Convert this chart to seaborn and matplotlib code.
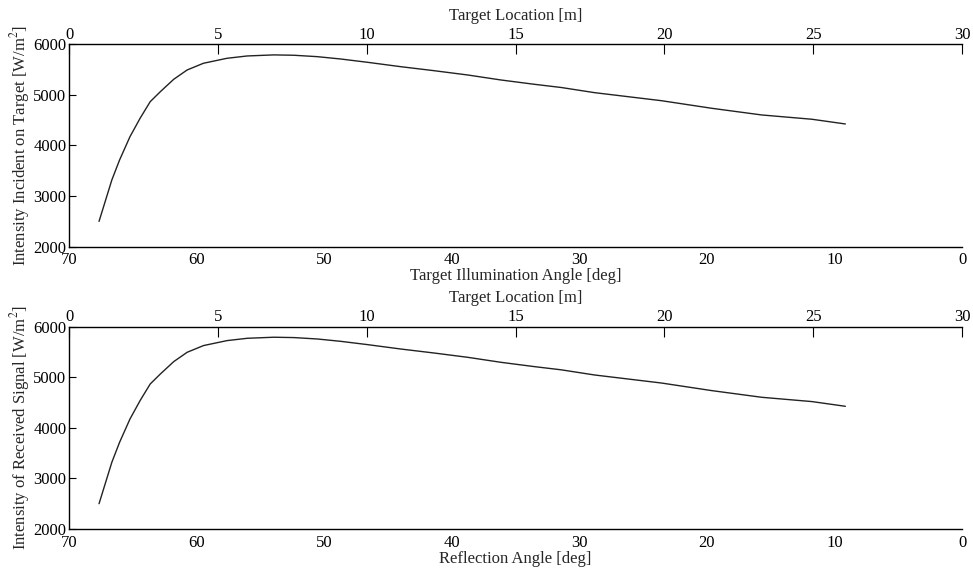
import matplotlib
matplotlib.use("Agg")
import matplotlib.pyplot as plt
import seaborn as sns

# Data (Target Location [m] vs intensity [W/m^2])
location_m = [1.0, 1.43, 1.69, 2.04, 2.38, 2.72, 3.06, 3.51, 3.96, 4.51, 5.30,
              5.98, 6.87, 7.55, 8.34, 9.12, 10.02, 11.14, 12.26, 13.39, 14.51,
              15.63, 16.53, 17.65, 19.9, 21.59, 23.27, 24.96, 26.08]
intensity_incident = [2500, 3318, 3713, 4174, 4538, 4866, 5063, 5308, 5492, 5625,
                      5723, 5769, 5790, 5783, 5755, 5709, 5644, 5557, 5478, 5393,
                      5294, 5209, 5146, 5044, 4885, 4735, 4603, 4518, 4425]
intensity_received = [2500, 3318, 3713, 4174, 4538, 4866, 5063, 5308, 5492, 5625,
                      5723, 5769, 5790, 5783, 5755, 5709, 5644, 5557, 5478, 5393,
                      5294, 5209, 5146, 5044, 4885, 4735, 4603, 4518, 4425]

angle_ticks = [70, 60, 50, 40, 30, 20, 10, 0]
location_ticks = [0, 5, 10, 15, 20, 25, 30]
intensity_ticks = [2000, 3000, 4000, 5000, 6000]

panels = [
    (intensity_incident, "Intensity Incident on Target [W/m$^2$]", "Target Illumination Angle [deg]"),
    (intensity_received, "Intensity of Received Signal [W/m$^2$]", "Reflection Angle [deg]"),
]

sns.set_style("white")
plt.rcParams["font.family"] = ["Liberation Serif", "DejaVu Serif"]
plt.rcParams["mathtext.fontset"] = "stix"
plt.rcParams["axes.linewidth"] = 1.0

fig = plt.figure(figsize=(9.73, 5.75), dpi=100)
bottoms = [0.571, 0.080]
fs = 12

for (vals, ylab, xlab), b in zip(panels, bottoms):
    ax = fig.add_axes([0.0712, b, 0.9175, 0.352])
    ax.set_xlim(70, 0)
    ax.set_ylim(2000, 6000)
    ax.set_xticks(angle_ticks)
    ax.set_yticks(intensity_ticks)
    ax.set_xticklabels([str(t) for t in angle_ticks], fontsize=fs)
    ax.set_yticklabels([str(t) for t in intensity_ticks], fontsize=fs)
    # only a small inward tick at the right end of the bottom axis
    ax.set_xticks([0], minor=True)
    for s in ["right", "top"]:
        ax.spines[s].set_visible(False)
    for s in ["left", "bottom"]:
        ax.spines[s].set_color("black")
    ax.tick_params(axis="y", direction="in", length=5, width=0.8, pad=2, left=True, right=False, colors="black")
    ax.tick_params(axis="x", which="major", direction="in", length=0, pad=4, bottom=True, top=False, colors="black")
    ax.tick_params(axis="x", which="minor", direction="in", length=7, width=0.8, bottom=True, top=False, colors="black")
    ax.set_xlabel(xlab, fontsize=fs, labelpad=0)
    ax.set_ylabel(ylab, fontsize=fs, labelpad=1)

    axt = ax.twiny()
    sns.lineplot(x=location_m, y=vals, ax=axt, color="#222222", linewidth=1.0)
    axt.set_xlim(0, 30)
    axt.set_ylim(2000, 6000)
    axt.set_xticks(location_ticks)
    axt.set_xticklabels([str(t) for t in location_ticks], fontsize=fs)
    for s in ["right", "bottom", "left"]:
        axt.spines[s].set_visible(False)
    axt.spines["top"].set_color("black")
    axt.tick_params(axis="x", direction="in", length=7, width=0.8, pad=1, top=True, bottom=False, colors="black")
    axt.set_xlabel("Target Location [m]", fontsize=fs, labelpad=5)
    axt.set_ylabel("")

fig.savefig("out.png", dpi=100)
